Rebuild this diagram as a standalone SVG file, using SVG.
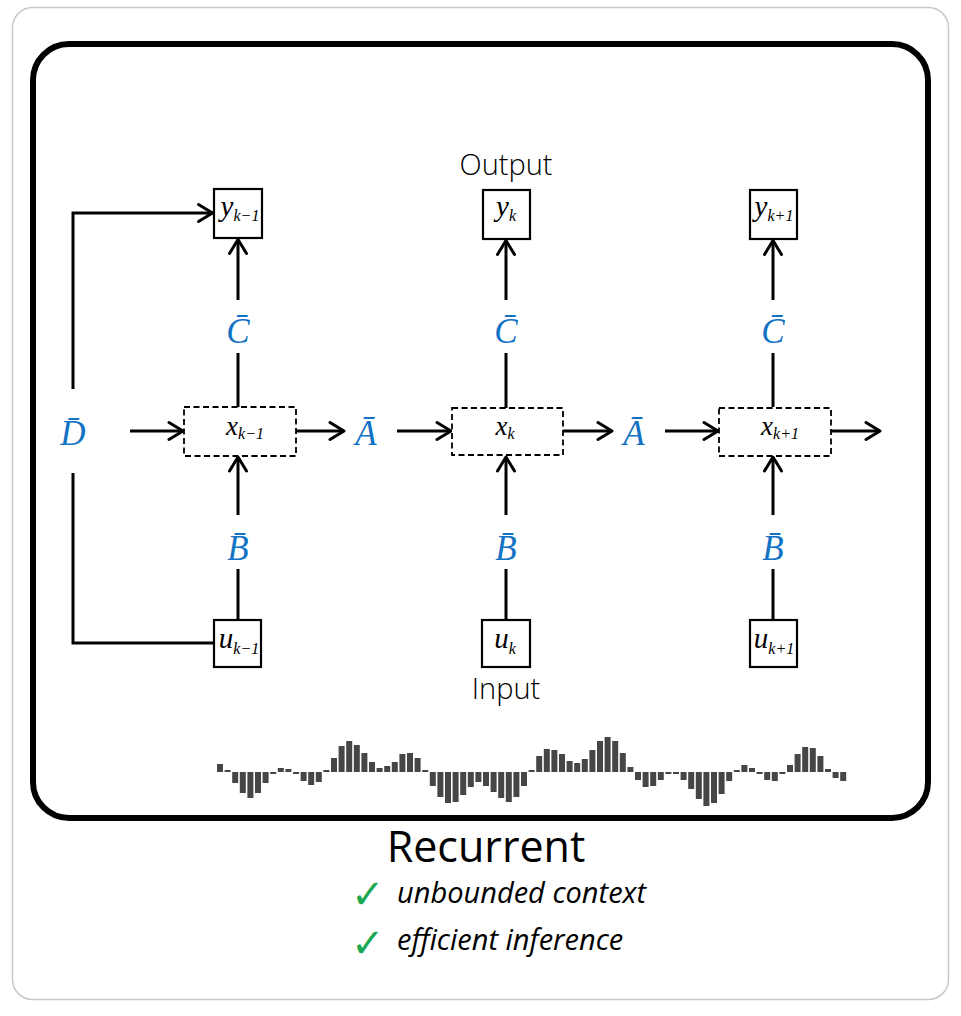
<svg xmlns="http://www.w3.org/2000/svg" width="961" height="1016" viewBox="0 0 961 1016">
  <defs>
    <marker id="arrow" viewBox="-17 -11 19 22" refX="0" refY="0" markerWidth="19" markerHeight="22" markerUnits="userSpaceOnUse" orient="auto">
      <polyline points="-14,-8.5 0,0 -14,8.5" fill="none" stroke="#000" stroke-width="3" stroke-linecap="round" stroke-linejoin="round"/>
    </marker>
    <style>
      .card { fill: #fff; stroke: #c8c8c8; stroke-width: 1.5; }
      .frame { fill: none; stroke: #000; stroke-width: 6; }
      .io { fill: #fff; stroke: #000; stroke-width: 2.2; }
      .state { fill: #fff; stroke: #000; stroke-width: 1.8; stroke-dasharray: 6 3.5; }
      .math { font-family: "Liberation Serif", "DejaVu Serif", serif; font-style: italic; font-size: 29px; fill: #000; text-anchor: middle; }
      .mx { font-size: 27px; }
      .sub { font-size: 16px; }
      .param { font-family: "Liberation Serif", "DejaVu Serif", serif; font-style: italic; font-size: 35px; fill: #1272c4; text-anchor: middle; }
      .caption { font-family: "Open Sans", "Liberation Sans", sans-serif; font-weight: 300; font-size: 29px; fill: #000; text-anchor: middle; }
      .title { font-family: "Open Sans", "Liberation Sans", sans-serif; font-weight: 400; font-size: 43px; fill: #000; text-anchor: middle; }
      .note { font-family: "Open Sans", "Liberation Sans", sans-serif; font-style: italic; font-weight: 400; font-size: 29px; fill: #000; }
      .tick { font-family: "DejaVu Sans", sans-serif; font-weight: bold; font-size: 40px; fill: #1aa852; }
      .wire { fill: none; stroke: #000; stroke-width: 3; }
      .wave rect { fill: #464646; }
    </style>
  </defs>

  <!-- card and frame -->
  <rect class="card" x="12.5" y="7.5" width="936" height="992" rx="20"/>
  <rect class="frame" x="33" y="44" width="895" height="774" rx="36"/>

  <!-- connectors -->
  <g id="connectors">
    <!-- input to state -->
    <path class="wire" d="M238,620 V569"/>
    <path class="wire" d="M238,515 V457" marker-end="url(#arrow)"/>
    <path class="wire" d="M506,620 V569"/>
    <path class="wire" d="M506,515 V457" marker-end="url(#arrow)"/>
    <path class="wire" d="M773,620 V569"/>
    <path class="wire" d="M773,515 V457" marker-end="url(#arrow)"/>
    <!-- state to output -->
    <path class="wire" d="M238,407 V353"/>
    <path class="wire" d="M238,300 V239.5" marker-end="url(#arrow)"/>
    <path class="wire" d="M506,408 V353"/>
    <path class="wire" d="M506,300 V240.5" marker-end="url(#arrow)"/>
    <path class="wire" d="M773,407 V353"/>
    <path class="wire" d="M773,300 V240.5" marker-end="url(#arrow)"/>
    <!-- state transitions -->
    <path class="wire" d="M130,431 H183" marker-end="url(#arrow)"/>
    <path class="wire" d="M296,431 H344" marker-end="url(#arrow)"/>
    <path class="wire" d="M397,431 H451" marker-end="url(#arrow)"/>
    <path class="wire" d="M563,431 H612" marker-end="url(#arrow)"/>
    <path class="wire" d="M665,431 H718" marker-end="url(#arrow)"/>
    <path class="wire" d="M831,431 H880" marker-end="url(#arrow)"/>
    <!-- skip connection D -->
    <path class="wire" d="M73,389 V213 H212.5" marker-end="url(#arrow)"/>
    <path class="wire" d="M73,473 V643 H214"/>
  </g>

  <!-- outputs -->
  <g id="y-km1">
    <rect class="io" x="214" y="189" width="48" height="49"/>
    <text class="math" x="240" y="216">y<tspan class="sub" dy="5">k−1</tspan></text>
  </g>
  <g id="y-k">
    <rect class="io" x="483" y="190" width="47" height="49"/>
    <text class="math" x="506" y="216">y<tspan class="sub" dy="5">k</tspan></text>
  </g>
  <g id="y-kp1">
    <rect class="io" x="750" y="190" width="47" height="49"/>
    <text class="math" x="774" y="216">y<tspan class="sub" dy="5">k+1</tspan></text>
  </g>

  <!-- hidden states -->
  <g id="x-km1">
    <rect class="state" x="184" y="407" width="112" height="49"/>
    <text class="math mx" x="245" y="435">x<tspan class="sub" dy="4">k−1</tspan></text>
  </g>
  <g id="x-k">
    <rect class="state" x="452" y="408" width="111" height="47"/>
    <text class="math mx" x="505" y="435">x<tspan class="sub" dy="4">k</tspan></text>
  </g>
  <g id="x-kp1">
    <rect class="state" x="719" y="408" width="112" height="48"/>
    <text class="math mx" x="780" y="435">x<tspan class="sub" dy="4">k+1</tspan></text>
  </g>

  <!-- inputs -->
  <g id="u-km1">
    <rect class="io" x="214" y="620" width="47" height="47"/>
    <text class="math" x="239" y="648">u<tspan class="sub" dy="6">k−1</tspan></text>
  </g>
  <g id="u-k">
    <rect class="io" x="482" y="620" width="48" height="47"/>
    <text class="math" x="505" y="648">u<tspan class="sub" dy="6">k</tspan></text>
  </g>
  <g id="u-kp1">
    <rect class="io" x="750" y="620" width="47" height="47"/>
    <text class="math" x="774" y="648">u<tspan class="sub" dy="6">k+1</tspan></text>
  </g>

  <!-- discretised parameters -->
  <g id="params">
    <text class="param" x="238" y="343">C̄</text>
    <text class="param" x="506" y="343">C̄</text>
    <text class="param" x="773" y="343">C̄</text>
    <text class="param" x="238" y="560">B̄</text>
    <text class="param" x="506" y="560">B̄</text>
    <text class="param" x="773" y="560">B̄</text>
    <text class="param" x="366" y="445">Ā</text>
    <text class="param" x="634" y="445">Ā</text>
    <text class="param" x="73" y="445">D̄</text>
  </g>

  <g id="labels">
    <text class="caption" x="506" y="175">Output</text>
    <text class="caption" x="506" y="699">Input</text>
  </g>

  <!-- input signal -->
  <g id="signal" class="wave">
    <rect x="217.0" y="764" width="6" height="8"/>
    <rect x="224.6" y="770" width="6" height="2"/>
    <rect x="232.2" y="772" width="6" height="11"/>
    <rect x="239.8" y="772" width="6" height="21"/>
    <rect x="247.4" y="772" width="6" height="26"/>
    <rect x="255.0" y="772" width="6" height="21"/>
    <rect x="262.6" y="772" width="6" height="11"/>
    <rect x="270.2" y="772" width="6" height="2"/>
    <rect x="277.8" y="768" width="6" height="4"/>
    <rect x="285.4" y="769" width="6" height="3"/>
    <rect x="293.0" y="772" width="6" height="2"/>
    <rect x="300.6" y="772" width="6" height="9"/>
    <rect x="308.2" y="772" width="6" height="13"/>
    <rect x="315.8" y="772" width="6" height="10"/>
    <rect x="323.4" y="770" width="6" height="2"/>
    <rect x="331.0" y="758" width="6" height="14"/>
    <rect x="338.6" y="746" width="6" height="26"/>
    <rect x="346.2" y="741" width="6" height="31"/>
    <rect x="353.8" y="745" width="6" height="27"/>
    <rect x="361.4" y="753" width="6" height="19"/>
    <rect x="369.0" y="762" width="6" height="10"/>
    <rect x="376.6" y="768" width="6" height="4"/>
    <rect x="384.2" y="766" width="6" height="6"/>
    <rect x="391.8" y="762" width="6" height="10"/>
    <rect x="399.4" y="754" width="6" height="18"/>
    <rect x="407.0" y="753" width="6" height="19"/>
    <rect x="414.6" y="758" width="6" height="14"/>
    <rect x="422.2" y="770" width="6" height="2"/>
    <rect x="429.8" y="772" width="6" height="14"/>
    <rect x="437.4" y="772" width="6" height="25"/>
    <rect x="445.0" y="772" width="6" height="31"/>
    <rect x="452.6" y="772" width="6" height="30"/>
    <rect x="460.2" y="772" width="6" height="23"/>
    <rect x="467.8" y="772" width="6" height="15"/>
    <rect x="475.4" y="772" width="6" height="10"/>
    <rect x="483.0" y="772" width="6" height="14"/>
    <rect x="490.6" y="772" width="6" height="20"/>
    <rect x="498.2" y="772" width="6" height="26"/>
    <rect x="505.8" y="772" width="6" height="30"/>
    <rect x="513.4" y="772" width="6" height="25"/>
    <rect x="521.0" y="772" width="6" height="14"/>
    <rect x="528.6" y="770" width="6" height="2"/>
    <rect x="536.2" y="756" width="6" height="16"/>
    <rect x="543.8" y="749" width="6" height="23"/>
    <rect x="551.4" y="750" width="6" height="22"/>
    <rect x="559.0" y="754" width="6" height="18"/>
    <rect x="566.6" y="761" width="6" height="11"/>
    <rect x="574.2" y="763" width="6" height="9"/>
    <rect x="581.8" y="759" width="6" height="13"/>
    <rect x="589.4" y="750" width="6" height="22"/>
    <rect x="597.0" y="741" width="6" height="31"/>
    <rect x="604.6" y="737" width="6" height="35"/>
    <rect x="612.2" y="741" width="6" height="31"/>
    <rect x="619.8" y="753" width="6" height="19"/>
    <rect x="627.4" y="767" width="6" height="5"/>
    <rect x="635.0" y="772" width="6" height="8"/>
    <rect x="642.6" y="772" width="6" height="15"/>
    <rect x="650.2" y="772" width="6" height="14"/>
    <rect x="657.8" y="772" width="6" height="8"/>
    <rect x="665.4" y="772" width="6" height="2"/>
    <rect x="673.0" y="772" width="6" height="2"/>
    <rect x="680.6" y="772" width="6" height="8"/>
    <rect x="688.2" y="772" width="6" height="17"/>
    <rect x="695.8" y="772" width="6" height="27"/>
    <rect x="703.4" y="772" width="6" height="34"/>
    <rect x="711.0" y="772" width="6" height="31"/>
    <rect x="718.6" y="772" width="6" height="22"/>
    <rect x="726.2" y="772" width="6" height="9"/>
    <rect x="733.8" y="770" width="6" height="2"/>
    <rect x="741.4" y="765" width="6" height="7"/>
    <rect x="749.0" y="768" width="6" height="4"/>
    <rect x="756.6" y="772" width="6" height="2"/>
    <rect x="764.2" y="772" width="6" height="8"/>
    <rect x="771.8" y="772" width="6" height="9"/>
    <rect x="779.4" y="772" width="6" height="2"/>
    <rect x="787.0" y="765" width="6" height="7"/>
    <rect x="794.6" y="754" width="6" height="18"/>
    <rect x="802.2" y="747" width="6" height="25"/>
    <rect x="809.8" y="748" width="6" height="24"/>
    <rect x="817.4" y="756" width="6" height="16"/>
    <rect x="825.0" y="769" width="6" height="3"/>
    <rect x="832.6" y="772" width="6" height="6"/>
    <rect x="840.2" y="772" width="6" height="9"/>
  </g>

  <!-- title and properties -->
  <g id="summary">
    <text class="title" x="486" y="862">Recurrent</text>
    <text class="tick" x="351" y="908">✓</text>
    <text class="note" x="397" y="903">unbounded context</text>
    <text class="tick" x="351" y="957">✓</text>
    <text class="note" x="397" y="950">efficient inference</text>
  </g>
</svg>
